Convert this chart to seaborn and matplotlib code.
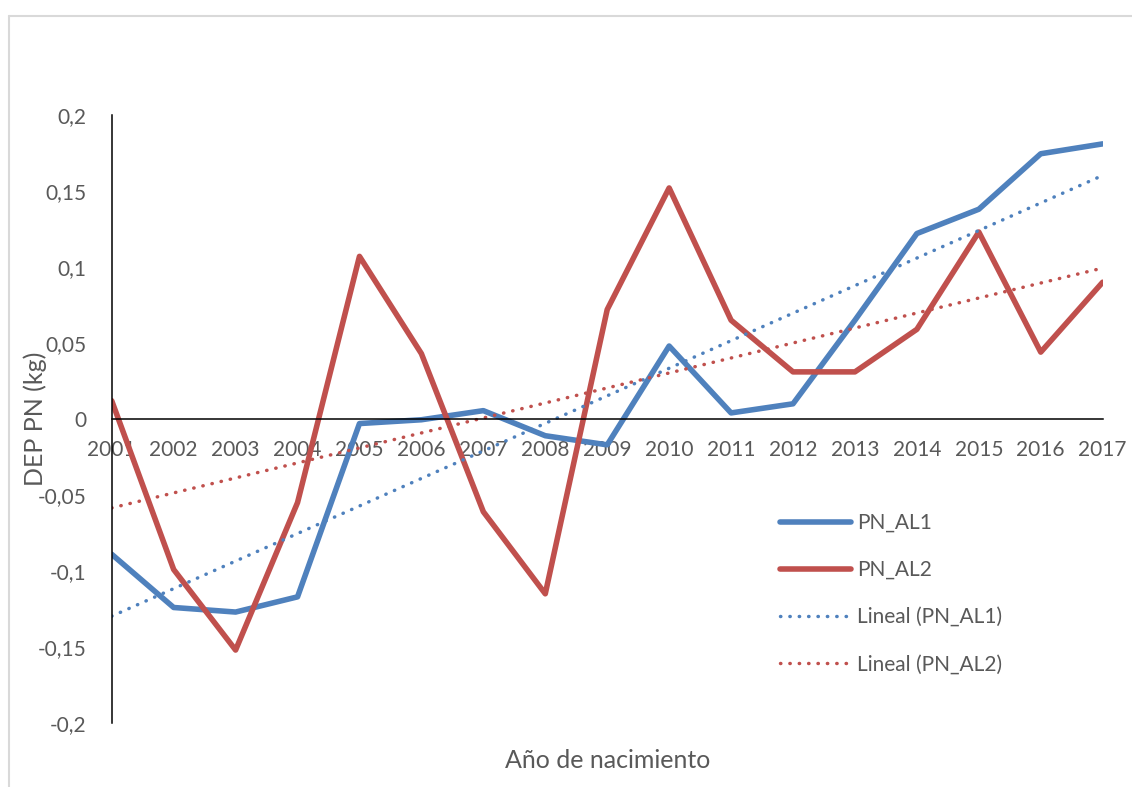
import seaborn as sns
import matplotlib.pyplot as plt
import matplotlib.ticker as mticker
from matplotlib.lines import Line2D
import pandas as pd

years = list(range(2001, 2018))
pn_al1 = [-0.089, -0.124, -0.127, -0.117, -0.003, -0.0005, 0.0055, -0.011, -0.017,
          0.048, 0.004, 0.010, 0.065, 0.122, 0.138, 0.1745, 0.181]
pn_al2 = [0.012, -0.099, -0.152, -0.055, 0.107, 0.043, -0.061, -0.115, 0.072,
          0.152, 0.065, 0.031, 0.031, 0.059, 0.123, 0.044, 0.090]
y_ticks = [-0.2, -0.15, -0.1, -0.05, 0, 0.05, 0.1, 0.15, 0.2]

blue = "#4F81BD"
red = "#C0504D"
grey_txt = "#595959"

sns.set_style("white")
plt.rcParams["font.family"] = ["Lato", "DejaVu Sans"]

df = pd.DataFrame({"year": years, "PN_AL1": pn_al1, "PN_AL2": pn_al2})

fig = plt.figure(figsize=(11.32, 7.87), dpi=100)
ax = fig.add_axes([0.0987, 0.0813, 0.8754, 0.7726])

line_style = dict(linewidth=4.0, solid_capstyle="round", solid_joinstyle="round")
sns.lineplot(x="year", y="PN_AL1", data=df, color=blue, label="PN_AL1", ax=ax, **line_style)
sns.lineplot(x="year", y="PN_AL2", data=df, color=red, label="PN_AL2", ax=ax, **line_style)

dots = dict(linewidth=2.5, linestyle=(0, (0.1, 2.6)), dash_capstyle="round")
sns.regplot(x="year", y="PN_AL1", data=df, scatter=False, ci=None, color=blue, ax=ax,
            label="Lineal (PN_AL1)", line_kws=dots)
sns.regplot(x="year", y="PN_AL2", data=df, scatter=False, ci=None, color=red, ax=ax,
            label="Lineal (PN_AL2)", line_kws=dots)

ax.set_xlim(2001, 2017)
ax.set_ylim(-0.2, 0.2)
ax.set_xticks(years)
ax.set_yticks(y_ticks)
ax.yaxis.set_major_formatter(mticker.FuncFormatter(lambda v, p: ("%g" % round(v, 3)).replace(".", ",")))

for s in ["top", "right"]:
    ax.spines[s].set_visible(False)
ax.spines["bottom"].set_position(("data", 0))
for s in ["left", "bottom"]:
    ax.spines[s].set_color("black")
    ax.spines[s].set_linewidth(1.1)

ax.tick_params(axis="both", direction="out", length=7, width=1.1, color="black",
               labelcolor=grey_txt, labelsize=15)
ax.tick_params(axis="x", pad=8)
ax.tick_params(axis="y", pad=11)

ax.set_xlabel("Año de nacimiento", fontsize=18, color=grey_txt, va="center")
ax.set_ylabel("DEP PN (kg)", fontsize=18, color=grey_txt, va="center")
ax.xaxis.set_label_coords(0.5, -0.061)
ax.yaxis.set_label_coords(-0.0774, 0.5)

ax.legend(loc="upper left", bbox_to_anchor=(780 / 1132, 1 - 513 / 787),
          bbox_transform=fig.transFigure, frameon=False, fontsize=15,
          handlelength=3.4, handletextpad=0.3, labelspacing=1.3,
          borderpad=0, borderaxespad=0, labelcolor=grey_txt)

# chart area border like the spreadsheet frame
border = dict(color="#D9D9D9", linewidth=1.5, transform=fig.transFigure)
fig.add_artist(Line2D([8.5 / 1132, 8.5 / 1132], [0, 1 - 15.5 / 787], **border))
fig.add_artist(Line2D([8.5 / 1132, 1], [1 - 15.5 / 787, 1 - 15.5 / 787], **border))

fig.savefig("out.png", dpi=100)
